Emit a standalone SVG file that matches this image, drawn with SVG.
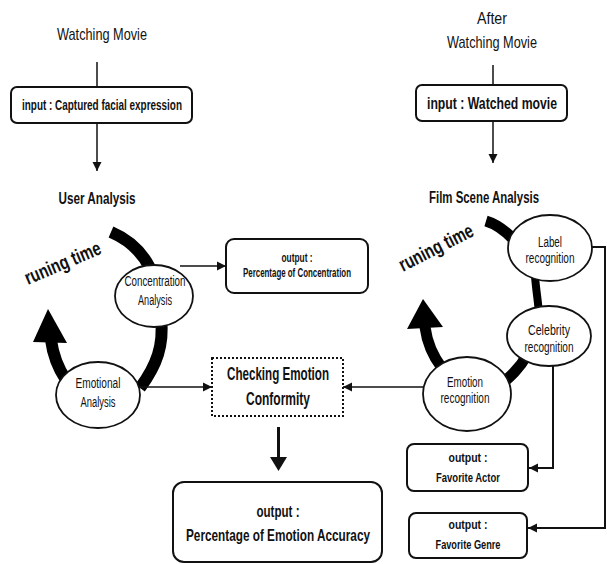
<svg xmlns="http://www.w3.org/2000/svg" width="607" height="564" viewBox="0 0 607 564">
<style>
text{font-family:"Liberation Sans",Arial,sans-serif;fill:#111;text-anchor:middle}
.b{font-weight:bold}
.box{fill:#fff;stroke:#111;stroke-width:2}
.ell{fill:#fff;stroke:#111;stroke-width:1.8}
.thin{fill:none;stroke:#111;stroke-width:1.5}
.med{fill:none;stroke:#111;stroke-width:2}
.thick{fill:none;stroke:#000;stroke-width:12}
.rt{font-weight:bold;font-size:20px;text-anchor:start}
</style>
<defs>
<marker id="ah" markerUnits="userSpaceOnUse" markerWidth="10" markerHeight="10" refX="9" refY="5" orient="auto">
<path d="M0,0.5 L9,5 L0,9.5 z" fill="#111"/>
</marker>
</defs>
<rect width="607" height="564" fill="#fff"/>

<g id="labels">
<text x="102" y="40" font-size="17" textLength="90" lengthAdjust="spacingAndGlyphs">Watching Movie</text>
<text x="492" y="24" font-size="17" textLength="30" lengthAdjust="spacingAndGlyphs">After</text>
<text x="492" y="48" font-size="17" textLength="90" lengthAdjust="spacingAndGlyphs">Watching Movie</text>
<text class="b" x="97" y="204" font-size="16" textLength="77" lengthAdjust="spacingAndGlyphs">User Analysis</text>
<text class="b" x="484" y="203" font-size="16" textLength="110" lengthAdjust="spacingAndGlyphs">Film Scene Analysis</text>
<text class="rt" transform="translate(28,285) rotate(-23)" textLength="81" lengthAdjust="spacingAndGlyphs">runing time</text>
<text class="rt" transform="translate(403,272) rotate(-27)" textLength="81" lengthAdjust="spacingAndGlyphs">runing time</text>
</g>

<g id="cycle-arrows">
<path class="thick" d="M111,232 C125,238 140,248 150,268"/>
<path class="thick" d="M161,318 C164,345 157,365 140,388"/>
<path class="thick" d="M66,380 C58,368 53,355 51,340"/>
<polygon points="48,309 33,342 67,343" fill="#000"/>
<path class="thick" style="stroke-width:11" d="M486,221 C496,224 506,231 516,242"/>
<path class="thick" style="stroke-width:8" d="M535,276 C536,290 538,300 539,314"/>
<path class="thick" style="stroke-width:11" d="M527,355 C520,368 510,377 498,387"/>
<path class="thick" style="stroke-width:11" d="M442,368 C432,355 427,342 425,327"/>
<polygon points="423,299 407,329 443,327" fill="#000"/>
</g>

<g id="connectors">
<line class="thin" x1="97" y1="62" x2="97" y2="87"/>
<line class="thin" x1="97" y1="123" x2="97" y2="171" marker-end="url(#ah)"/>
<line class="thin" x1="493" y1="65" x2="493" y2="85"/>
<line class="thin" x1="493" y1="121" x2="493" y2="163" marker-end="url(#ah)"/>
<line class="thin" x1="180" y1="266" x2="226" y2="266" marker-end="url(#ah)"/>
<line class="thin" x1="138" y1="387" x2="212" y2="387" marker-end="url(#ah)"/>
<line class="thin" x1="424" y1="387" x2="343" y2="387" marker-end="url(#ah)"/>
<line x1="278.5" y1="427" x2="278.5" y2="459" stroke="#111" stroke-width="3"/>
<polygon points="270,457 287,457 278.5,471" fill="#111"/>
<polyline class="med" points="553,365 553,468 529,468" marker-end="url(#ah)"/>
<polyline class="med" points="591,247 605,247 605,528 528,528" marker-end="url(#ah)"/>
</g>

<g id="input-left">
<rect class="box" x="11" y="87" width="181" height="36" rx="6"/>
<text class="b" x="102" y="110" font-size="15" textLength="160" lengthAdjust="spacingAndGlyphs">input : Captured facial expression</text>
</g>
<g id="input-right">
<rect class="box" x="416" y="85" width="151" height="36" rx="6"/>
<text class="b" x="492" y="109" font-size="17" textLength="130" lengthAdjust="spacingAndGlyphs">input : Watched movie</text>
</g>

<g id="concentration">
<ellipse class="ell" cx="154" cy="296" rx="39" ry="31"/>
<text x="155" y="286" font-size="14" textLength="61" lengthAdjust="spacingAndGlyphs">Concentration</text>
<text x="155" y="305" font-size="14" textLength="34" lengthAdjust="spacingAndGlyphs">Analysis</text>
</g>
<g id="emotional">
<ellipse class="ell" cx="98" cy="395" rx="42" ry="33"/>
<text x="98" y="388" font-size="14" textLength="45" lengthAdjust="spacingAndGlyphs">Emotional</text>
<text x="98" y="407" font-size="14" textLength="35" lengthAdjust="spacingAndGlyphs">Analysis</text>
</g>

<g id="output-concentration">
<rect class="box" x="226" y="239" width="142" height="54" rx="8"/>
<text class="b" x="297" y="262" font-size="12" textLength="31" lengthAdjust="spacingAndGlyphs">output :</text>
<text class="b" x="297" y="277" font-size="12" textLength="108" lengthAdjust="spacingAndGlyphs">Percentage of Concentration</text>
</g>

<g id="checking">
<rect x="212" y="358" width="131" height="58" fill="#fff" stroke="#111" stroke-width="2" stroke-dasharray="2,2"/>
<text class="b" x="278" y="380" font-size="18" textLength="102" lengthAdjust="spacingAndGlyphs">Checking Emotion</text>
<text class="b" x="278" y="405" font-size="18" textLength="64" lengthAdjust="spacingAndGlyphs">Conformity</text>
</g>

<g id="output-accuracy">
<rect class="box" x="173" y="482" width="209" height="80" rx="11"/>
<text class="b" x="278" y="517" font-size="17" textLength="43" lengthAdjust="spacingAndGlyphs">output :</text>
<text class="b" x="278" y="541" font-size="17" textLength="184" lengthAdjust="spacingAndGlyphs">Percentage of Emotion Accuracy</text>
</g>

<g id="label-recognition">
<ellipse class="ell" cx="550" cy="248" rx="42" ry="33"/>
<text x="550" y="247" font-size="14" textLength="24" lengthAdjust="spacingAndGlyphs">Label</text>
<text x="550" y="263" font-size="14" textLength="49" lengthAdjust="spacingAndGlyphs">recognition</text>
</g>
<g id="celebrity-recognition">
<ellipse class="ell" cx="549" cy="336" rx="42" ry="30"/>
<text x="549" y="335" font-size="14" textLength="42" lengthAdjust="spacingAndGlyphs">Celebrity</text>
<text x="549" y="352" font-size="14" textLength="49" lengthAdjust="spacingAndGlyphs">recognition</text>
</g>
<g id="emotion-recognition">
<ellipse class="ell" cx="467" cy="394" rx="44" ry="37"/>
<text x="465" y="387" font-size="14" textLength="36" lengthAdjust="spacingAndGlyphs">Emotion</text>
<text x="465" y="403" font-size="14" textLength="49" lengthAdjust="spacingAndGlyphs">recognition</text>
</g>

<g id="output-actor">
<rect class="box" x="407" y="444" width="121" height="47" rx="7"/>
<text class="b" x="468" y="462" font-size="13" textLength="39" lengthAdjust="spacingAndGlyphs">output :</text>
<text class="b" x="468" y="482" font-size="13" textLength="64" lengthAdjust="spacingAndGlyphs">Favorite Actor</text>
</g>
<g id="output-genre">
<rect class="box" x="409" y="513" width="118" height="45" rx="7"/>
<text class="b" x="468" y="529" font-size="12" textLength="39" lengthAdjust="spacingAndGlyphs">output :</text>
<text class="b" x="468" y="549" font-size="12" textLength="65" lengthAdjust="spacingAndGlyphs">Favorite Genre</text>
</g>
</svg>
